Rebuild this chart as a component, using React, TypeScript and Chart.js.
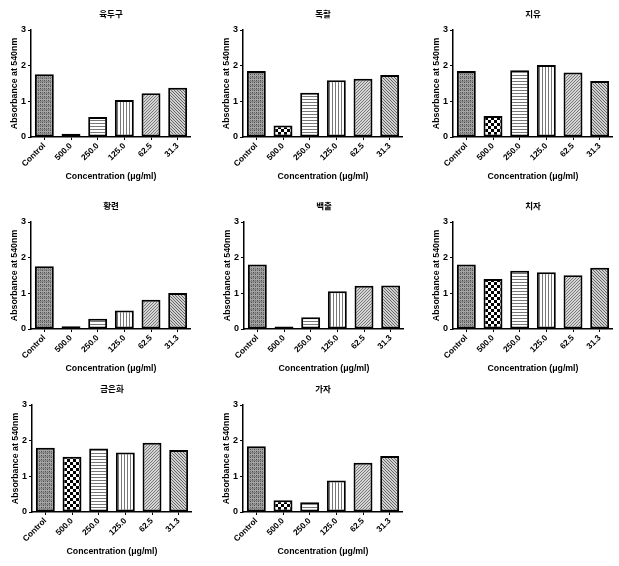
import React, { useEffect, useRef } from "react";
import { Chart, registerables } from "chart.js";

Chart.register(...registerables);

// ---- data ----
const categories = ["Control", "500.0", "250.0", "125.0", "62.5", "31.3"];
const panelTitles = ["육두구", "독활", "지유", "황련", "백출", "치자", "금은화", "가자"];
const yTickValues = [0, 1, 2, 3];
const yukdugu = [1.76, 0.09, 0.56, 1.04, 1.23, 1.38];
const dokhwal = [1.85, 0.32, 1.24, 1.59, 1.63, 1.74];
const jiyu = [1.85, 0.59, 1.87, 2.02, 1.81, 1.57];
const hwangryeon = [1.76, 0.08, 0.29, 0.52, 0.82, 1.01];
const baekchul = [1.81, 0.07, 0.33, 1.06, 1.21, 1.22];
const chija = [1.81, 1.4, 1.63, 1.59, 1.51, 1.72];
const geuneunhwa = [1.8, 1.55, 1.78, 1.67, 1.94, 1.74];
const gaja = [1.84, 0.33, 0.27, 0.88, 1.38, 1.57];
const panelValues = [yukdugu, dokhwal, jiyu, hwangryeon, baekchul, chija, geuneunhwa, gaja];
const xTitle = "Concentration (μg/ml)";
const yTitle = "Absorbance at 540nm";

// ---- layout (not data) ----
const panelPos = [
  { left: 0, top: 0 },
  { left: 212, top: 0 },
  { left: 422, top: 0 },
  { left: 0, top: 192 },
  { left: 213, top: 192 },
  { left: 422, top: 192 },
  { left: 1, top: 375 },
  { left: 212, top: 375 },
];
const CW = 191;
const CH = 190;
const FONT = "'Liberation Sans', Arial, 'Noto Sans CJK KR', sans-serif";

function makePattern(w: number, h: number, draw: (ctx: CanvasRenderingContext2D) => void) {
  const c = document.createElement("canvas");
  c.width = w;
  c.height = h;
  const ctx = c.getContext("2d")!;
  draw(ctx);
  return ctx.createPattern(c, "repeat")!;
}

function buildPatterns() {
  const control = makePattern(4, 4, (ctx) => {
    ctx.fillStyle = "#a4a4a4";
    ctx.fillRect(0, 0, 4, 4);
    ctx.fillStyle = "#4a4a4a";
    ctx.fillRect(0, 0, 1, 1);
    ctx.fillRect(2, 2, 1, 1);
    ctx.fillStyle = "#6e6e6e";
    ctx.fillRect(2, 0, 1, 1);
    ctx.fillRect(0, 2, 1, 1);
    ctx.fillStyle = "#888";
    ctx.fillRect(0, 1, 4, 1);
  });
  const checker = makePattern(6, 6, (ctx) => {
    ctx.fillStyle = "#fff";
    ctx.fillRect(0, 0, 6, 6);
    ctx.fillStyle = "#000";
    ctx.fillRect(0, 0, 3, 3);
    ctx.fillRect(3, 3, 3, 3);
  });
  const horiz = makePattern(1, 3, (ctx) => {
    ctx.fillStyle = "#fff";
    ctx.fillRect(0, 0, 1, 3);
    ctx.fillStyle = "#777";
    ctx.fillRect(0, 0, 1, 1);
  });
  const vert = makePattern(3, 1, (ctx) => {
    ctx.fillStyle = "#fff";
    ctx.fillRect(0, 0, 3, 1);
    ctx.fillStyle = "#777";
    ctx.fillRect(0, 0, 1, 1);
  });
  const diagUp = makePattern(3, 3, (ctx) => {
    ctx.fillStyle = "#d6d6d6";
    ctx.fillRect(0, 0, 3, 3);
    ctx.fillStyle = "#777";
    ctx.fillRect(2, 0, 1, 1);
    ctx.fillRect(1, 1, 1, 1);
    ctx.fillRect(0, 2, 1, 1);
  });
  const diagDown = makePattern(3, 3, (ctx) => {
    ctx.fillStyle = "#d0d0d0";
    ctx.fillRect(0, 0, 3, 3);
    ctx.fillStyle = "#666";
    ctx.fillRect(0, 0, 1, 1);
    ctx.fillRect(1, 1, 1, 1);
    ctx.fillRect(2, 2, 1, 1);
  });
  return [control, checker, horiz, vert, diagUp, diagDown];
}

function Panel({ title, values, left, top }: { title: string; values: number[]; left: number; top: number }) {
  const ref = useRef<HTMLCanvasElement>(null);
  useEffect(() => {
    const canvas = ref.current!;
    const chart = new Chart(canvas, {
      type: "bar",
      data: {
        labels: categories,
        datasets: [
          {
            data: values,
            backgroundColor: buildPatterns() as any,
            borderColor: "#000",
            borderWidth: 2,
            borderSkipped: false,
            barPercentage: 0.71,
            categoryPercentage: 1,
          },
        ],
      },
      options: {
        responsive: false,
        animation: false,
        layout: { padding: 0 },
        plugins: {
          legend: { display: false },
          tooltip: { enabled: false },
          title: {
            display: true,
            text: title,
            color: "#000",
            fullSize: false,
            font: { family: FONT, size: 8.5, weight: "bold" },
            padding: { top: 9.9, bottom: 9.9 },
          },
        },
        scales: {
          x: {
            grid: {
              display: true,
              drawOnChartArea: false,
              drawTicks: true,
              tickLength: 3,
              offset: false,
              color: "#000",
              lineWidth: 1,
            },
            border: { display: true, color: "#000", width: 1.5 },
            ticks: {
              color: "#000",
              font: { family: FONT, size: 8.3, weight: "bold" },
              maxRotation: 45,
              minRotation: 45,
              padding: 1,
              autoSkip: false,
            },
            title: {
              display: true,
              text: xTitle,
              color: "#000",
              font: { family: FONT, size: 8.75, weight: "bold" },
              padding: { top: 0, bottom: 8 },
            },
            afterFit: (s: any) => {
              s.height = 53;
            },
          },
          y: {
            min: 0,
            max: 3,
            grid: {
              display: true,
              drawOnChartArea: false,
              drawTicks: true,
              tickLength: 3,
              color: "#000",
              lineWidth: 1,
            },
            border: { display: true, color: "#000", width: 1.5 },
            ticks: {
              color: "#000",
              font: { family: FONT, size: 9, weight: "bold" },
              padding: 2,
              stepSize: 1,
            },
            afterBuildTicks: (s: any) => {
              s.ticks = yTickValues.map((v) => ({ value: v }));
            },
            title: {
              display: true,
              text: yTitle,
              color: "#000",
              font: { family: FONT, size: 8.8, weight: "bold" },
              padding: { top: 8.8, bottom: 0 },
            },
            afterFit: (s: any) => {
              s.width = 31;
            },
          },
        },
      } as any,
    });
    return () => chart.destroy();
  }, [title, values]);
  return (
    <canvas
      ref={ref}
      width={CW}
      height={CH}
      style={{ position: "absolute", left, top, width: CW, height: CH }}
    />
  );
}

export default function App() {
  return (
    <div
      style={{
        position: "absolute",
        left: 0,
        top: 0,
        width: 619,
        height: 566,
        background: "#fff",
        overflow: "hidden",
      }}
    >
      {panelTitles.map((t, i) => (
        <Panel key={t} title={t} values={panelValues[i]} left={panelPos[i].left} top={panelPos[i].top} />
      ))}
    </div>
  );
}
